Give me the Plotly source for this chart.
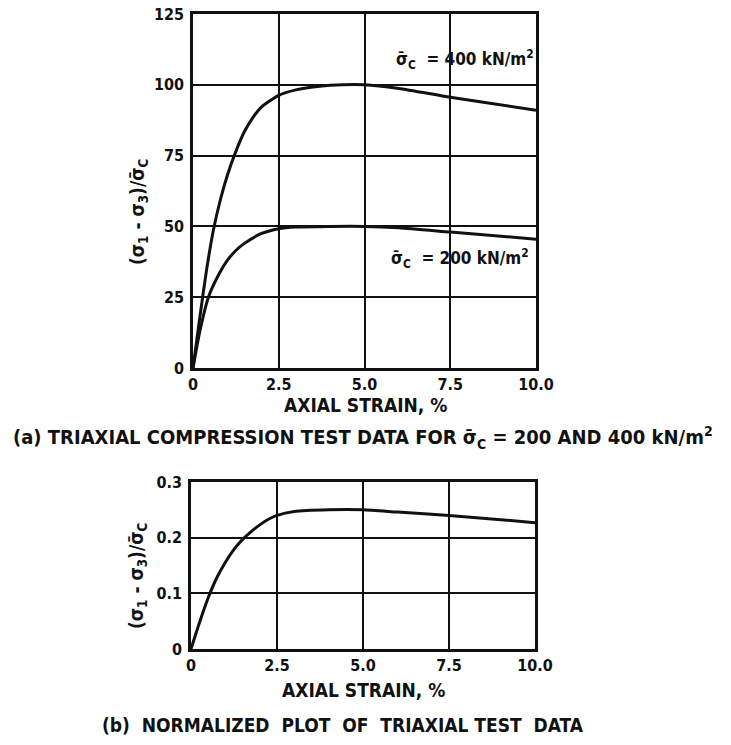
import plotly.graph_objects as go

# Triaxial compression test: deviator stress vs axial strain
strain_400 = [0, 0.2, 0.4, 0.6, 0.8, 1.0, 1.25, 1.5, 1.75, 2.0, 2.5, 3.0, 3.5, 4.0, 5.0, 6.0, 7.5, 10.0]
dev_400 = [0, 18, 35, 49, 59.5, 68, 76.5, 83.5, 88.5, 92.2, 96.3, 98.2, 99.2, 99.8, 100, 98.7, 95.6, 91]

strain_200 = [0, 0.2, 0.45, 0.75, 1.0, 1.25, 1.5, 2.0, 2.5, 3.0, 4.0, 5.0, 6.0, 7.5, 10.0]
dev_200 = [0, 13, 25, 33, 38, 41.5, 44, 47.5, 49.2, 49.8, 50, 50, 49.5, 48, 45.5]

# Normalized curve
strain_norm = [0, 0.25, 0.5, 0.75, 1.0, 1.25, 1.5, 1.75, 2.0, 2.25, 2.5, 3.0, 4.0, 5.0, 6.0, 7.5, 10.0]
dev_norm = [0, 0.048, 0.092, 0.128, 0.156, 0.179, 0.197, 0.211, 0.223, 0.233, 0.240, 0.247, 0.250,
            0.25, 0.246, 0.24, 0.227]

x_ticks = [0, 2.5, 5.0, 7.5, 10.0]
x_tick_text = ["0", "2.5", "5.0", "7.5", "10.0"]
y_ticks_a = [0, 25, 50, 75, 100, 125]
y_tick_text_a = ["0", "25", "50", "75", "100", "125"]
y_ticks_b = [0, 0.1, 0.2, 0.3]
y_tick_text_b = ["0", "0.1", "0.2", "0.3"]

FONT = "DejaVu Sans Condensed, Liberation Sans Narrow, Arial Narrow, sans-serif"
INK = "#111111"

fig = go.Figure()
line = dict(color=INK, width=3, shape="spline", smoothing=0.6)
fig.add_trace(go.Scatter(x=strain_400, y=dev_400, mode="lines", line=line,
                         xaxis="x", yaxis="y", showlegend=False))
fig.add_trace(go.Scatter(x=strain_200, y=dev_200, mode="lines", line=line,
                         xaxis="x", yaxis="y", showlegend=False))
fig.add_trace(go.Scatter(x=strain_norm, y=dev_norm, mode="lines", line=line,
                         xaxis="x2", yaxis="y2", showlegend=False))

W, H = 731, 745

def px(x):
    return x / W

def py(y):
    return 1 - y / H

axis_common = dict(showgrid=True, gridcolor=INK, gridwidth=1.5, zeroline=False,
                   showline=True, linecolor=INK, linewidth=2.5, mirror=True,
                   ticks="", automargin=False,
                   tickfont=dict(family=FONT, size=16, color=INK, weight="bold"),
                   fixedrange=True)

fig.update_layout(
    width=W, height=H,
    margin=dict(l=0, r=0, t=0, b=0),
    paper_bgcolor="white", plot_bgcolor="white",
    xaxis=dict(domain=[px(193), px(536)], range=[0, 10], anchor="y",
               tickvals=x_ticks, ticktext=x_tick_text, ticklabelstandoff=0, **axis_common),
    yaxis=dict(domain=[py(368), py(14)], range=[0, 125], anchor="x",
               tickvals=y_ticks_a, ticktext=y_tick_text_a, ticklabelstandoff=3, **axis_common),
    xaxis2=dict(domain=[px(191), px(535)], range=[0, 10], anchor="y2",
                tickvals=x_ticks, ticktext=x_tick_text, ticklabelstandoff=0, **axis_common),
    yaxis2=dict(domain=[py(649), py(482)], range=[0, 0.3], anchor="x2",
                tickvals=y_ticks_b, ticktext=y_tick_text_b, ticklabelstandoff=3, **axis_common),
)

def note(text, x, y, size=18, angle=0, xanchor="center"):
    fig.add_annotation(text=text, x=px(x), y=py(y), xref="paper", yref="paper",
                       showarrow=False, textangle=angle, xanchor=xanchor, yanchor="middle",
                       font=dict(family=FONT, size=size, color=INK, weight="bold"))

ylab = "(σ<sub>1</sub> - σ<sub>3</sub>)/σ\u0304<sub>C</sub>"
note(ylab, 138, 212, size=19, angle=-90)
note(ylab, 137, 576, size=19, angle=-90)

note("AXIAL STRAIN, %", 365, 405, size=19)
note("AXIAL STRAIN, %", 363, 690, size=19)

note("σ\u0304<sub>C</sub>  = 400 kN/m<sup>2</sup>", 465, 60, size=17)
note("σ\u0304<sub>C</sub>  = 200 kN/m<sup>2</sup>", 460, 258, size=17)

note("(a) TRIAXIAL COMPRESSION TEST DATA FOR σ\u0304<sub>C</sub> = 200 AND 400 kN/m<sup>2</sup>",
     363, 437, size=20)
note("(b)  NORMALIZED  PLOT  OF  TRIAXIAL TEST  DATA", 343, 725, size=19)

fig.write_html("out.html")
